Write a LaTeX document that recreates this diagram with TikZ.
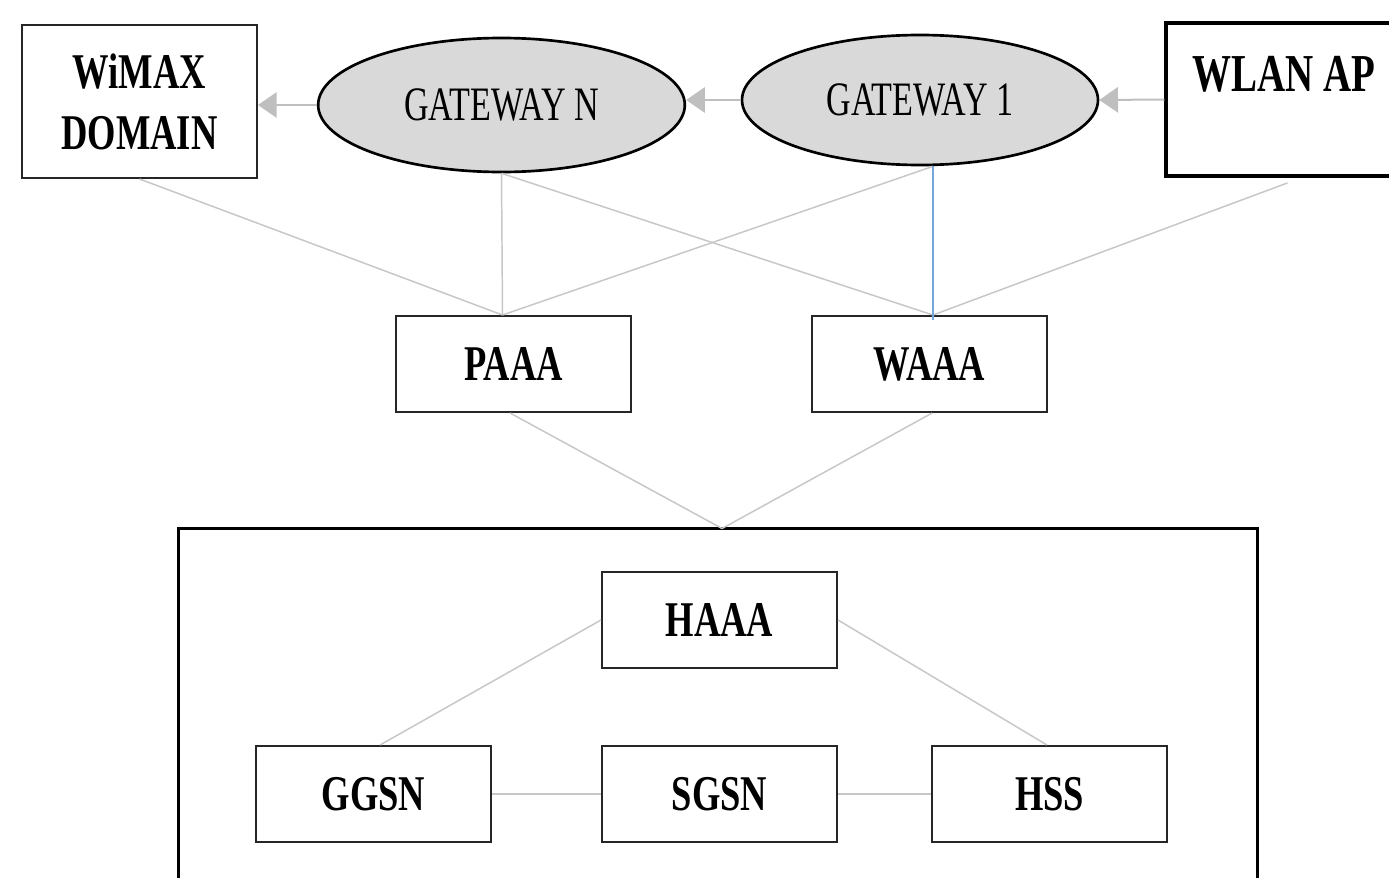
\documentclass[tikz,border=0pt]{standalone}
\usepackage{fontspec}
\newfontfamily\cfont[FakeStretch=0.73]{Liberation Serif}
\newfontfamily\gfont[FakeStretch=0.71]{Liberation Serif}
\usetikzlibrary{arrows.meta,shapes.geometric}
\begin{document}
\begin{tikzpicture}[x=0.75pt,y=-0.75pt,
  box/.style={draw=black!85, line width=1.5pt, fill=white, minimum width=176.25pt, minimum height=72pt, inner sep=0pt, align=center,
    font=\cfont\bfseries\fontsize{37.5pt}{45.75pt}\selectfont},
  gw/.style={ellipse, draw=black, line width=2pt, fill=gray!30, inner sep=0pt,
    font=\gfont\fontsize{36pt}{40pt}\selectfont},
  link/.style={draw=black!22, line width=1.1pt},
  arr/.style={draw=black!25, line width=1.5pt, -{Triangle[length=14pt,width=19pt]}},
]
\useasboundingbox (0,0) rectangle (1389,878);
\clip (0,0) rectangle (1389,878);
\fill[white] (0,0) rectangle (1389,878);

% top row
\node[box, minimum height=114.75pt] (wimax) at (139.5,101.5) {WiMAX\\DOMAIN};
\node[gw, minimum width=275pt, minimum height=100.5pt] (gwn) at (501.5,105) {GATEWAY N};
\node[gw, minimum width=267pt, minimum height=97.5pt] (gw1) at (920,100) {GATEWAY 1};
\node[box, draw=black, line width=2.4pt, minimum height=114.75pt] (wlan) at (1283.5,99.5) {};
\node[font=\cfont\bfseries\fontsize{40pt}{45pt}\selectfont, inner sep=0pt] (wlantext) at (1284,74) {WLAN AP};

% middle row
\node[box] (paaa) at (513.5,364) {PAAA};
\node[box] (waaa) at (929.5,364) {WAAA};

% core network
\node[draw=black, line width=2.25pt, minimum width=809.25pt, minimum height=300pt, inner sep=0pt] (core) at (717.5,728) {};
\node[box] (haaa) at (719.5,620) {HAAA};
\node[box] (ggsn) at (373.5,794) {GGSN};
\node[box] (sgsn) at (719.5,794) {SGSN};
\node[box] (hss) at (1049.5,794) {HSS};

% anchor points
\coordinate (pin) at ([xshift=-8.25pt]paaa.north);
\coordinate (win) at ([xshift=2.6pt]waaa.north);
\coordinate (gw1b) at ([xshift=9.75pt]gw1.south);
\coordinate (wlanb) at ([xshift=3pt,yshift=-4pt]wlan.south);
\coordinate (meet) at ([xshift=3.4pt,yshift=-1.5pt]core.north);

% arrows
\draw[arr] (gwn.west) -- (gwn.west -| wimax.east);
\draw[arr] (gw1.west) -- (gw1.west -| gwn.east);
\draw[arr] (wlan.west) -- (gw1.east);

% links
\draw[link] (wimax.south) -- (pin);
\draw[link] (gwn.south) -- (pin);
\draw[link] (gwn.south) -- (win);
\draw[link] (gw1b) -- (pin);
\draw[link] (wlanb) -- (win);
\draw[draw={rgb,255:red,120;green,165;blue,220}, line width=1.1pt] (gw1b) -- ([yshift=-4pt]waaa.north -| gw1b);

\draw[link] ([xshift=-2.6pt]paaa.south) -- (meet);
\draw[link] ([xshift=2pt]waaa.south) -- (meet);

\draw[link] (haaa.west) -- ([xshift=4.9pt]ggsn.north);
\draw[link] (haaa.east) -- ([xshift=-1.9pt]hss.north);
\draw[link] (ggsn.east) -- (sgsn.west);
\draw[link] (sgsn.east) -- (hss.west);
\end{tikzpicture}
\end{document}
